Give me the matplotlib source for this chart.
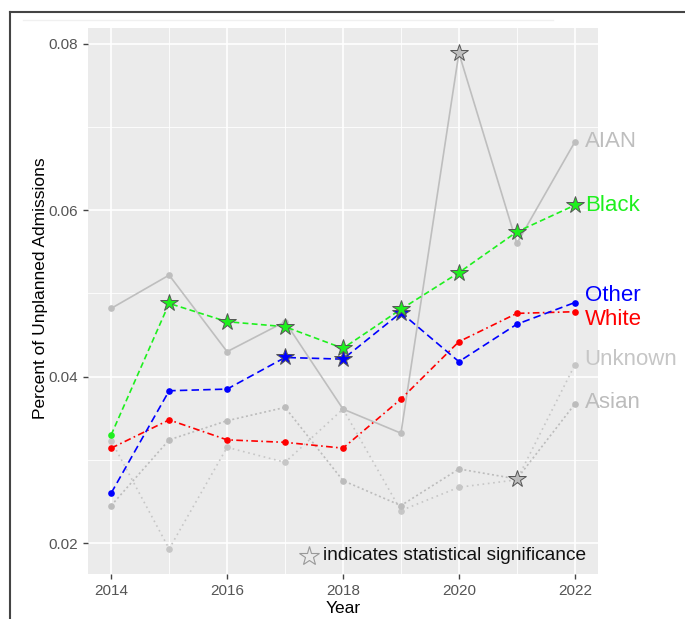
import numpy as np
import matplotlib.pyplot as plt
from matplotlib.lines import Line2D
from matplotlib.ticker import MultipleLocator

plt.rcParams['font.family'] = ['Liberation Sans', 'DejaVu Sans']

years = [2014, 2015, 2016, 2017, 2018, 2019, 2020, 2021, 2022]

# rates
aian    = [0.0482, 0.0522, 0.0430, 0.0466, 0.0361, 0.0332, 0.0789, 0.0560, 0.0682]
black   = [0.0330, 0.0488, 0.0466, 0.0460, 0.0434, 0.0481, 0.0525, 0.0574, 0.0606]
other   = [0.0260, 0.0383, 0.0385, 0.0423, 0.0421, 0.0477, 0.0418, 0.0463, 0.0489]
white   = [0.0314, 0.0348, 0.0324, 0.0321, 0.0314, 0.0373, 0.0442, 0.0476, 0.0478]
asian   = [0.0245, 0.0324, 0.0347, 0.0363, 0.0275, 0.0245, 0.0289, 0.0277, 0.0367]
unknown = [0.0323, 0.0193, 0.0315, 0.0297, 0.0361, 0.0239, 0.0267, 0.0276, 0.0414]

# significant years (drawn as stars)
sig_aian    = [2020]
sig_black   = [2015, 2016, 2017, 2018, 2019, 2020, 2021, 2022]
sig_other   = [2017, 2018, 2019]
sig_white   = []
sig_asian   = [2021]
sig_unknown = []

# name, values, sig, colour, linestyle, label offset
series = [
    ("Unknown", unknown, sig_unknown, "#c6c6c6", (0, (1, 2.2)), 0.0006),
    ("Asian", asian, sig_asian, "#bcbcbc", (0, (1.2, 1.6)), 0.0002),
    ("AIAN", aian, sig_aian, "#bebebe", "-", 0.0),
    ("White", white, sig_white, "#ff0000", (0, (4, 2, 1, 2)), -0.0009),
    ("Other", other, sig_other, "#0000ff", (0, (4.5, 2.5)), 0.0009),
    ("Black", black, sig_black, "#1ef01e", (0, (3.5, 2)), 0.0),
]

fig = plt.figure(figsize=(6.85, 6.19), dpi=100)
ax = fig.add_axes([88/685, 1-574.3/619, (598-88)/685, (574.3-28)/619])
ax.set_facecolor("#ebebeb")

for name, vals, sig, col, ls, off in series:
    x = np.array(years)
    y = np.array(vals)
    ax.plot(x, y, color=col, ls=ls, lw=1.2, zorder=2)
    mask = np.isin(x, sig)
    ax.plot(x[~mask], y[~mask], 'o', color=col, ms=4.8, mec='none', zorder=3)
    ax.plot(x[mask], y[mask], '*', color=col, ms=13, mec='#555555', mew=0.7, zorder=4)
    ax.text(x[-1] + 0.17, y[-1] + off, name, color=col, fontsize=16,
            va='center', ha='left', clip_on=False)

ax.set_xlim(2013.6, 2022.4)
ax.set_ylim(0.01624, 0.0819)
ax.set_xticks([2014, 2016, 2018, 2020, 2022])
ax.set_yticks([0.02, 0.04, 0.06, 0.08])
ax.xaxis.set_minor_locator(MultipleLocator(1))
ax.yaxis.set_minor_locator(MultipleLocator(0.01))
ax.grid(which='major', color='white', lw=1.2)
ax.grid(which='minor', color='white', lw=0.6)
ax.set_axisbelow(True)
for s in ax.spines.values():
    s.set_visible(False)
ax.tick_params(which='major', length=3.5, width=1, color='#444444',
               labelsize=11, labelcolor='#555555')
ax.tick_params(which='minor', length=0)

ax.set_xlabel("Year", fontsize=12.5, labelpad=2)
ax.set_ylabel("Percent of Unplanned Admissions", fontsize=12.5)
ax.yaxis.set_label_coords(-0.078, 0.524)

# note on significance
ax.plot([2017.42], [0.01844], '*', ms=15, mfc='none', mec='#999999', mew=0.8, clip_on=False)
ax.text(2017.66, 0.01844, "indicates statistical significance", fontsize=13.8,
        va='center', ha='left', color='#111111')

# outer frame
fig.add_artist(Line2D([10/685, 10/685], [0, 1-12/619], color='#444444', lw=1.5))
fig.add_artist(Line2D([10/685, 1], [1-12/619, 1-12/619], color='#444444', lw=1.5))
fig.add_artist(Line2D([23/685, 553/685], [1-20/619, 1-20/619], color='#f0f0f0', lw=1))

fig.savefig("out.png", dpi=100)
